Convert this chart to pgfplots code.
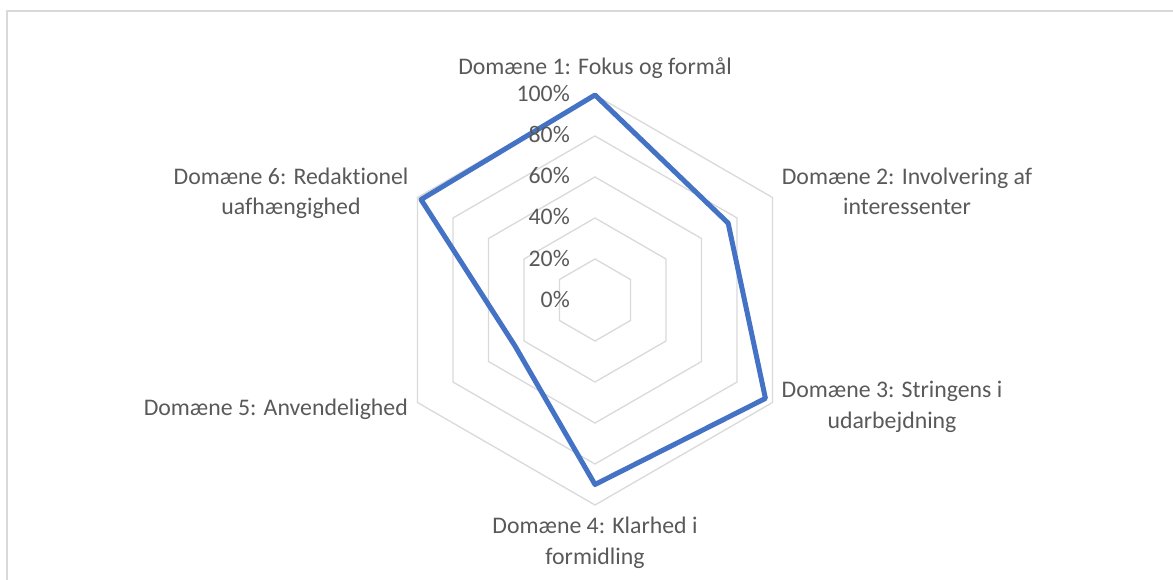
\documentclass[border=0pt]{standalone}
\usepackage{pgfplots}
\pgfplotsset{compat=1.18}
\usepackage{fontspec}
\setmainfont{Carlito}[Ligatures=NoCommon]
\definecolor{gridc}{HTML}{D9D9D9}
\definecolor{txtc}{HTML}{595959}
\definecolor{serc}{HTML}{4472C4}
\begin{document}
\begin{tikzpicture}
\fontsize{23.8bp}{30.5bp}\selectfont
\begin{axis}[
  at={(0,0)}, anchor=center,
  x=2.05bp, y=2.05bp,
  xmin=-110, xmax=110, ymin=-110, ymax=110,
  axis lines=none, clip=false,
]
% hexagonal grid rings
\addplot[gridc, line width=1.3bp, data cs=polar] coordinates {(90,20) (30,20) (-30,20) (-90,20) (-150,20) (150,20) (90,20) (30,20)};
\addplot[gridc, line width=1.3bp, data cs=polar] coordinates {(90,40) (30,40) (-30,40) (-90,40) (-150,40) (150,40) (90,40) (30,40)};
\addplot[gridc, line width=1.3bp, data cs=polar] coordinates {(90,60) (30,60) (-30,60) (-90,60) (-150,60) (150,60) (90,60) (30,60)};
\addplot[gridc, line width=1.3bp, data cs=polar] coordinates {(90,80) (30,80) (-30,80) (-90,80) (-150,80) (150,80) (90,80) (30,80)};
\addplot[gridc, line width=1.3bp, data cs=polar] coordinates {(90,100) (30,100) (-30,100) (-90,100) (-150,100) (150,100) (90,100) (30,100)};
% data series
\addplot[serc, line width=5bp, line join=round, data cs=polar] coordinates {
  (90,100) (30,75) (-30,96) (-90,90) (-150,45) (150,98) (90,100) (30,75)};
\end{axis}
% value labels
\foreach \v/\lab in {0/0\%,20/20\%,40/40\%,60/60\%,80/80\%,100/100\%}{
  \pgfmathsetmacro{\yy}{\v*2.05-7}
  \node[txtc, anchor=base east, inner sep=0pt] at (-25bp,\yy bp) {\lab};
}
% category labels (base anchor = baseline of last line)
\node[txtc, anchor=base, inner sep=0pt] at (0bp,225bp) {Domæne 1: Fokus og formål};
\node[txtc, anchor=base, inner sep=0pt, align=center] at (312bp,85bp) {Domæne 2: Involvering af\\interessenter};
\node[txtc, anchor=base, inner sep=0pt, align=center] at (297bp,-128bp) {Domæne 3: Stringens i\\udarbejdning};
\node[txtc, anchor=base, inner sep=0pt, align=center] at (0bp,-264bp) {Domæne 4: Klarhed i\\formidling};
\node[txtc, anchor=base east, inner sep=0pt] at (-187bp,-115bp) {Domæne 5: Anvendelighed};
\node[txtc, anchor=base, inner sep=0pt, align=center] at (-304bp,85bp) {Domæne 6: Redaktionel\\uafhængighed};
% chart border (top and left visible)
\draw[gridc, line width=1.5bp] (-588bp,-320bp) -- (-588bp,289bp) -- (620bp,289bp);
\pgfresetboundingbox
\path[use as bounding box] (-595bp,-280bp) rectangle (578bp,300bp);
\end{tikzpicture}
\end{document}
